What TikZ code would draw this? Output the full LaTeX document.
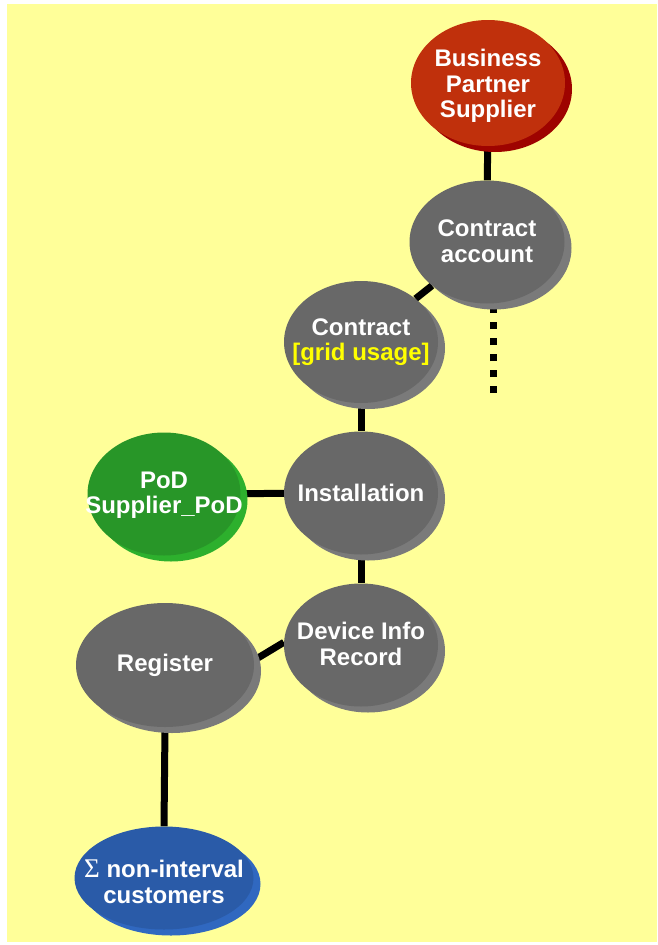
\documentclass[tikz,border=0pt]{standalone}
\usepackage{fontspec}
\setmainfont{Liberation Sans}
\newfontfamily\sigmafont{Liberation Serif}
\usetikzlibrary{shapes.geometric,shadows,backgrounds}
\definecolor{bgyellow}{HTML}{FFFF99}
\definecolor{bpred}{HTML}{C0300C}
\definecolor{bpreddark}{HTML}{9E0300}
\definecolor{objgray}{HTML}{686868}
\definecolor{objgrayrim}{HTML}{7A7A7A}
\definecolor{podgreen}{HTML}{289628}
\definecolor{podgreenrim}{HTML}{2DB02D}
\definecolor{sumblue}{HTML}{2A5BA8}
\definecolor{sumbluerim}{HTML}{3068C0}
\definecolor{labelyellow}{HTML}{FFFF00}

\begin{document}
\begin{tikzpicture}[
  x=1pt, y=-1pt,
  bubble/.style n args={2}{ellipse, inner sep=0pt, fill=#1,
    drop shadow={shadow xshift=7pt, shadow yshift=-6pt, fill=#2, opacity=1}},
  bubbletext/.style={text=white, align=center, inner sep=0pt,
    font=\fontsize{24}{25.5}\selectfont\bfseries},
  link/.style={line width=7pt, black},
  dots/.style={line width=7pt, black, dash pattern=on 7pt off 9pt}
]
\useasboundingbox (0,0) rectangle (657,945);
\begin{scope}[on background layer]
  \fill[bgyellow] (7,4) rectangle (657,942);
\end{scope}

% objects
\node[bubble={bpred}{bpreddark}, minimum width=154pt, minimum height=126pt,
  label={[bubbletext, yshift=-3pt]center:Business\\Partner\\Supplier}] (bp) at (488,83) {};
\node[bubble={objgray}{objgrayrim}, minimum width=155pt, minimum height=123pt,
  label={[bubbletext, yshift=1pt]center:Contract\\account}] (ca) at (487,242) {};
\node[bubble={objgray}{objgrayrim}, minimum width=154pt, minimum height=122pt,
  label={[bubbletext]center:Contract\\\textcolor{labelyellow}{[grid usage]}}] (con) at (361,342) {};
\node[bubble={objgray}{objgrayrim}, minimum width=154pt, minimum height=123pt,
  label={[bubbletext]center:Installation}] (inst) at (361,493) {};
\node[bubble={podgreen}{podgreenrim}, minimum width=153pt, minimum height=123pt,
  label={[bubbletext, yshift=-1pt]center:PoD\\Supplier\_PoD}] (pod) at (164,494) {};
\node[bubble={objgray}{objgrayrim}, minimum width=154pt, minimum height=123pt,
  label={[bubbletext, yshift=1pt]center:Device Info\\Record}] (dev) at (361,645) {};
\node[bubble={objgray}{objgrayrim}, minimum width=178pt, minimum height=124pt,
  label={[bubbletext]center:Register}] (reg) at (165,665) {};
\node[bubble={sumblue}{sumbluerim}, minimum width=179pt, minimum height=103pt,
  label={[bubbletext, yshift=-4pt]center:{\sigmafont\mdseries\fontsize{27}{25.5}\selectfont\char"03A3} non-interval\\customers}] (sum) at (164,878) {};
\coordinate (caend) at (493,393);

% links
\begin{scope}[on background layer]
  \draw[link] (bp) -- (ca);
  \draw[link] (ca) -- (con);
  \draw[dots] (caend) -- (ca.south -| caend);
  \draw[link] (con) -- (inst);
  \draw[link] (inst) -- (pod);
  \draw[link] (inst) -- (dev);
  \draw[link] (reg.3) -- (dev.178);
  \draw[link] (reg.south) -- (sum.north);
\end{scope}
\end{tikzpicture}
\end{document}
